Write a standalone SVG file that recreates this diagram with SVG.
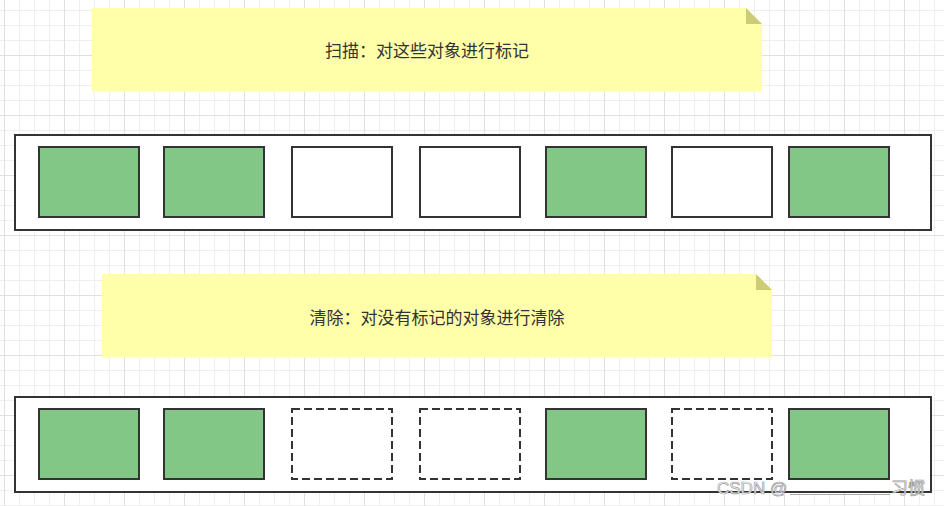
<svg xmlns="http://www.w3.org/2000/svg" width="944" height="506" viewBox="0 0 944 506">
<defs>
<pattern id="grid" patternUnits="userSpaceOnUse" x="4" y="-5" width="60" height="60">
<path d="M15.5 0V60M30.5 0V60M45.5 0V60M0 15.5H60M0 30.5H60M0 45.5H60" stroke="#efefef" stroke-width="1" fill="none"/>
<path d="M0.5 0V60M0 0.5H60" stroke="#e0e0e0" stroke-width="1" fill="none"/>
</pattern>
<style>
.cont{fill:#ffffff;stroke:#333333;stroke-width:2}
.full{fill:#82c785;stroke:#333333;stroke-width:2}
.empty{fill:#ffffff;stroke:#333333;stroke-width:2}
.gone{fill:#ffffff;stroke:#333333;stroke-width:2;stroke-dasharray:8 4}
.note{fill:#ffffa9}
.fold{fill:#cccc78}
.lbl{font-family:"Microsoft YaHei","Noto Sans CJK SC",sans-serif;font-size:17px;fill:#333333;text-anchor:middle}
.wm{font-family:"Liberation Sans","Noto Sans CJK SC",sans-serif;font-size:17px;fill:#ffffff;stroke:#999999;stroke-width:0.7}
</style>
</defs>
<rect width="944" height="506" fill="#ffffff"/>
<rect width="944" height="506" fill="url(#grid)"/>

<g id="note1">
<path class="note" d="M92 8H746L762 24V91.5H92Z"/>
<path class="fold" d="M746 8L762 24H746Z"/>
<text class="lbl" x="427" y="57">扫描：对这些对象进行标记</text>
</g>

<g id="heap1">
<rect class="cont" x="15" y="135" width="916" height="95"/>
</g>
<g id="h1o1"><rect class="full" x="39" y="147" width="100" height="70"/></g>
<g id="h1o2"><rect class="full" x="164" y="147" width="100" height="70"/></g>
<g id="h1o3"><rect class="empty" x="292" y="147" width="100" height="70"/></g>
<g id="h1o4"><rect class="empty" x="420" y="147" width="100" height="70"/></g>
<g id="h1o5"><rect class="full" x="546" y="147" width="100" height="70"/></g>
<g id="h1o6"><rect class="empty" x="672" y="147" width="100" height="70"/></g>
<g id="h1o7"><rect class="full" x="789" y="147" width="100" height="70"/></g>

<g id="note2">
<path class="note" d="M102 274H756L772 290V357.5H102Z"/>
<path class="fold" d="M756 274L772 290H756Z"/>
<text class="lbl" x="437" y="324">清除：对没有标记的对象进行清除</text>
</g>

<g id="heap2">
<rect class="cont" x="15" y="397" width="916" height="95"/>
</g>
<g id="h2o1"><rect class="full" x="39" y="409" width="100" height="70"/></g>
<g id="h2o2"><rect class="full" x="164" y="409" width="100" height="70"/></g>
<g id="h2o3"><rect class="gone" x="292" y="409" width="100" height="70"/></g>
<g id="h2o4"><rect class="gone" x="420" y="409" width="100" height="70"/></g>
<g id="h2o5"><rect class="full" x="546" y="409" width="100" height="70"/></g>
<g id="h2o6"><rect class="gone" x="672" y="409" width="100" height="70"/></g>
<g id="h2o7"><rect class="full" x="789" y="409" width="100" height="70"/></g>

<g id="connectors"></g>

<g id="watermark">
<text class="wm" x="717" y="494">CSDN @</text>
<line x1="790" y1="494.5" x2="890" y2="494.5" stroke="#aaaaaa" stroke-width="1"/>
<text class="wm" x="891" y="494">习惯</text>
</g>
</svg>
